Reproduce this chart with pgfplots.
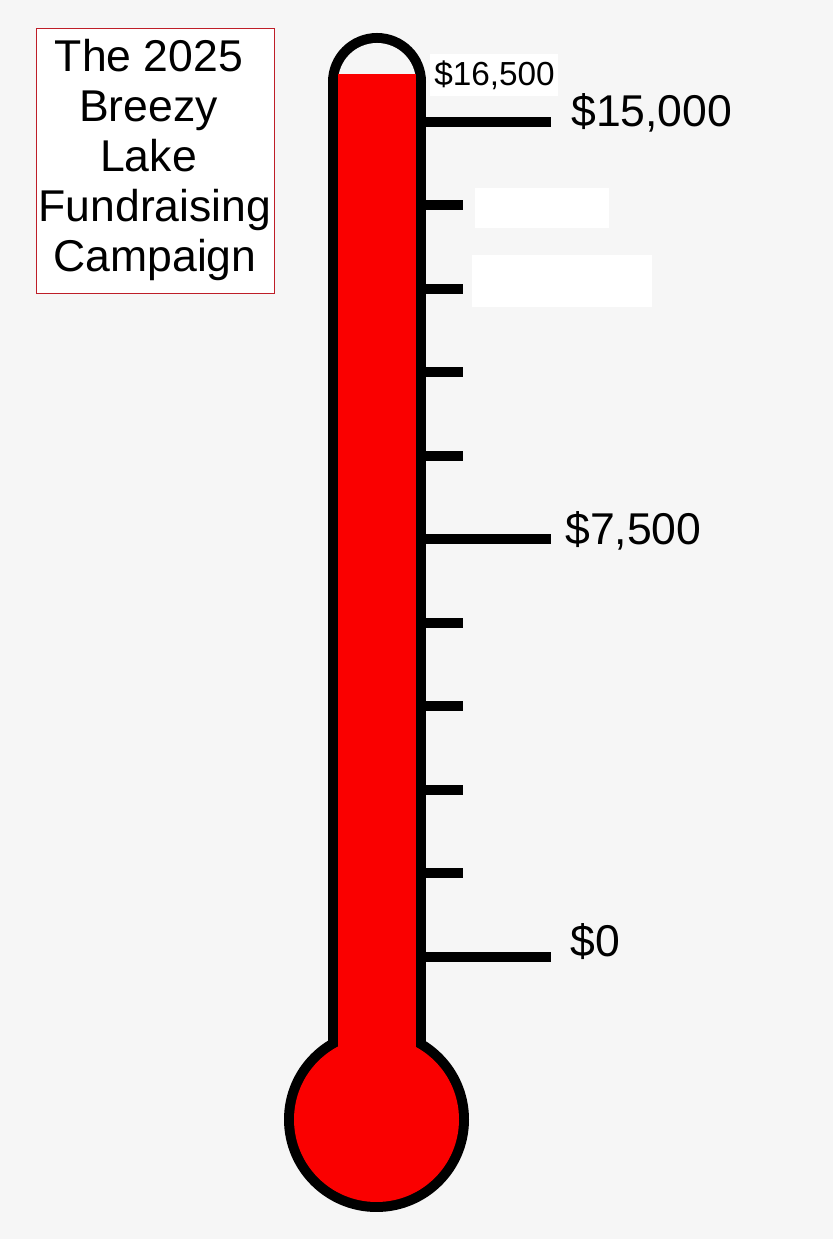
\documentclass[border=0pt]{standalone}
\usepackage{fontspec}
\setmainfont{Liberation Sans}
\usepackage{pgfplots}
\pgfplotsset{compat=1.18}
\definecolor{bgc}{RGB}{246,246,246}
\definecolor{merc}{RGB}{250,0,0}
\definecolor{boxred}{RGB}{190,30,40}
\newcommand{\bigf}{\fontsize{33.4}{40}\selectfont}
\newcommand{\smallf}{\fontsize{25}{30}\selectfont}
\begin{document}
\begin{tikzpicture}
% ---- page / glass (pixel units: x right, y down) ----
\begin{scope}[x=0.75pt, y=-0.75pt, yshift=929.25pt]
  \fill[bgc] (0,0) rectangle (833,1239);
  % title box
  \filldraw[fill=white, draw=boxred, line width=0.75pt] (36,29) rectangle (274,294);
  % glass outline
  \fill[black] (377,82) circle[radius=49];
  \fill[black] (328,82) rectangle (426,1060);
  \fill[black] (376.5,1119.5) circle[radius=92.5];
  % glass interior
  \fill[bgc] (377,82) circle[radius=39];
  \fill[bgc] (338,82) rectangle (416,1060);
  % bulb mercury
  \fill[merc] (338,957) rectangle (416,1060);
  \fill[merc] (376.5,1119.5) circle[radius=82.5];
  % blanked labels
  \fill[white] (475,188) rectangle (609,228);
  \fill[white] (472,255) rectangle (652,307);
  \fill[white] (430,54) rectangle (558,96);
  % title
  \node[anchor=base, inner sep=0pt, font=\bigf] at (149,71.5) {The 2025};
  \node[anchor=base, inner sep=0pt, font=\bigf] at (148.5,121.5) {Breezy};
  \node[anchor=base, inner sep=0pt, font=\bigf] at (148.5,171.5) {Lake};
  \node[anchor=base, inner sep=0pt, font=\bigf] at (155,221.7) {Fundraising};
  \node[anchor=base, inner sep=0pt, font=\bigf] at (155,272) {Campaign};
\end{scope}
\begin{axis}[at={(0,0)}, anchor=south west,
  width=624.75pt, height=929.25pt, scale only axis, hide axis,
  xmin=0, xmax=833, ymin=-5065.9, ymax=17191.6, clip=false]
  % raised amount (mercury column from $0)
  \addplot[fill=merc, draw=none] coordinates {(338,0) (416,0) (416,15860) (338,15860)} -- cycle;
  % major scale marks
  \pgfplotsinvokeforeach{0,7500,15000}{
    \addplot[black, line width=7.5pt, mark=none] coordinates {(421,#1) (551,#1)};
  }
  % minor scale marks
  \pgfplotsinvokeforeach{1500,3000,4500,6000,9000,10500,12000,13500}{
    \addplot[black, line width=7.5pt, mark=none] coordinates {(421,#1) (463,#1)};
  }
  \node[anchor=base west, inner sep=0pt, font=\bigf, yshift=-3.5pt] at (axis cs:571,15000) {\$15,000};
  \node[anchor=base west, inner sep=0pt, font=\bigf, yshift=-4.1pt] at (axis cs:565,7500) {\$7,500};
  \node[anchor=base west, inner sep=0pt, font=\bigf] at (axis cs:570,0) {\$0};
  \node[anchor=base west, inner sep=0pt, font=\smallf] at (axis cs:434,15647) {\$16,500};
\end{axis}
\end{tikzpicture}
\end{document}
